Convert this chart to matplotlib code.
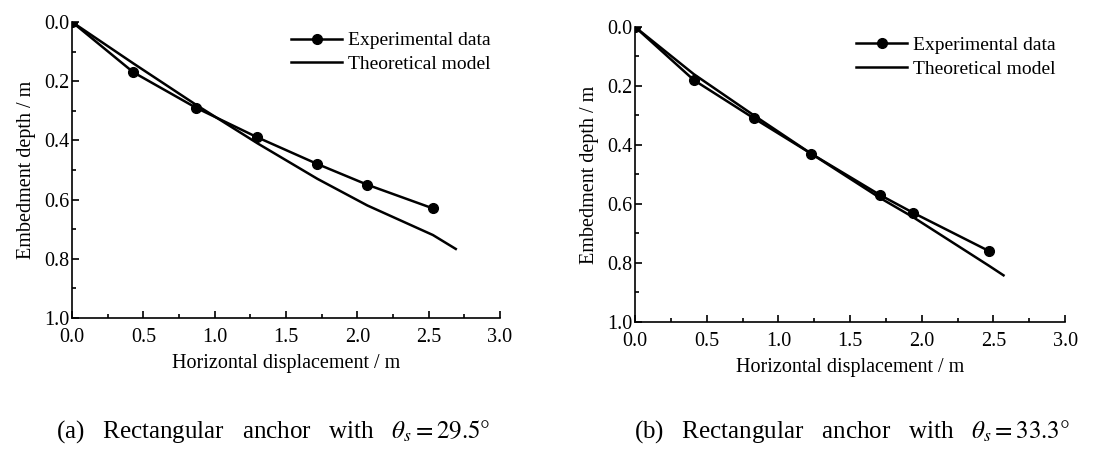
import matplotlib.pyplot as plt
import numpy as np

plt.rcParams['font.family'] = ['Liberation Serif', 'DejaVu Serif']
plt.rcParams['mathtext.fontset'] = 'stix'

# (a) theta_s = 29.5
exp_a_x = [0.0, 0.43, 0.87, 1.30, 1.72, 2.07, 2.53]
exp_a_y = [0.0, 0.17, 0.29, 0.39, 0.48, 0.55, 0.63]
th_a_x = [0.0, 0.43, 0.87, 1.30, 1.72, 2.07, 2.53, 2.69]
th_a_y = [0.0, 0.14, 0.28, 0.41, 0.53, 0.62, 0.72, 0.767]

# (b) theta_s = 33.3
exp_b_x = [0.0, 0.41, 0.83, 1.23, 1.71, 1.94, 2.47]
exp_b_y = [0.0, 0.18, 0.31, 0.43, 0.57, 0.63, 0.76]
th_b_x = [0.0, 0.41, 0.83, 1.23, 1.71, 1.94, 2.47, 2.57]
th_b_y = [0.0, 0.16, 0.30, 0.43, 0.58, 0.645, 0.81, 0.842]

captions = [r"(a)   Rectangular   anchor   with   $\theta_s=29.5°$",
            r"(b)   Rectangular   anchor   with   $\theta_s=33.3°$"]
cap_x = [0.248, 0.772]

fig = plt.figure(figsize=(11.03, 4.49), dpi=100)
ax1 = fig.add_axes([0.0653, 0.292, 0.388, 0.659])
ax2 = fig.add_axes([0.5757, 0.283, 0.390, 0.657])

for ax, ex, ey, tx, ty, cap, cx in [(ax1, exp_a_x, exp_a_y, th_a_x, th_a_y, captions[0], cap_x[0]),
                                    (ax2, exp_b_x, exp_b_y, th_b_x, th_b_y, captions[1], cap_x[1])]:
	ax.plot(ex, ey, '-o', color='black', lw=1.8, ms=7, label='Experimental data')
	ax.plot(tx, ty, '-', color='black', lw=1.8, label='Theoretical model')
	ax.set_xlim(0, 3.0)
	ax.set_ylim(1.0, 0.0)
	ax.set_xticks(np.arange(0, 3.01, 0.5))
	ax.set_xticks(np.arange(0.25, 3.0, 0.5), minor=True)
	ax.set_yticks(np.arange(0, 1.01, 0.2))
	ax.set_yticks(np.arange(0.1, 1.0, 0.2), minor=True)
	ax.set_xticklabels(["%.1f" % v for v in np.arange(0, 3.01, 0.5)])
	ax.set_yticklabels(["%.1f" % v for v in np.arange(0, 1.01, 0.2)])
	ax.spines['top'].set_visible(False)
	ax.spines['right'].set_visible(False)
	for s in ['left', 'bottom']:
		ax.spines[s].set_linewidth(1.2)
	ax.tick_params(which='both', direction='in', labelsize=14.5, width=1.2)
	ax.tick_params(axis='y', pad=2)
	ax.tick_params(axis='x', pad=7.5)
	ax.tick_params(which='major', length=5)
	ax.tick_params(which='minor', length=3)
	ax.set_xlabel('Horizontal displacement / m', fontsize=14.5, labelpad=5)
	ax.set_ylabel('Embedment depth / m', fontsize=14.5, labelpad=6)
	ax.legend(loc='upper right', frameon=False, fontsize=14, handlelength=2.6,
	          handletextpad=0.3, borderaxespad=0.1, labelspacing=0.3)
	fig.text(cx, 0.008, cap, ha='center', va='bottom', fontsize=18)

plt.savefig('out.png', dpi=100)
